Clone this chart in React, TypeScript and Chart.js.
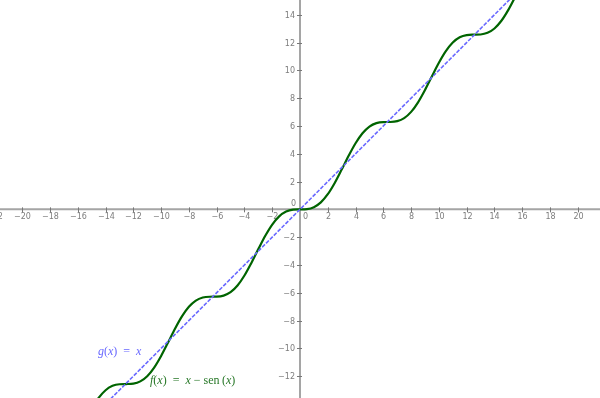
import React, { useEffect, useRef } from 'react';
import { Chart, registerables } from 'chart.js';
Chart.register(...registerables);

// f(x) = x - sen(x), sampled values (x, f(x))
const fXs = [
  -16, -15.5, -15, -14.5, -14, -13.5, -13, -12.5, -12, -11.5, -11, -10.5, -10, -9.5, -9, -8.5, -8,
  -7.5, -7, -6.5, -6, -5.5, -5, -4.5, -4, -3.5, -3, -2.5, -2, -1.5, -1, -0.5, 0,
  0.5, 1, 1.5, 2, 2.5, 3, 3.5, 4, 4.5, 5, 5.5, 6, 6.5, 7, 7.5, 8,
  8.5, 9, 9.5, 10, 10.5, 11, 11.5, 12, 12.5, 13, 13.5, 14, 14.5, 15, 15.5, 16,
];
const fYs = [
  -16.2879, -15.2935, -14.3497, -13.5651, -13.0094, -12.6962, -12.5798, -12.5663, -12.5366, -12.3755, -12.0, -11.3797, -10.544, -9.5752, -8.5879, -7.7015, -7.0106,
  -6.562, -6.343, -6.2849, -6.2794, -6.2055, -5.9589, -5.4775, -4.7568, -3.8508, -2.8589, -1.9015, -1.0907, -0.5025, -0.1585, -0.0206, 0,
  0.0206, 0.1585, 0.5025, 1.0907, 1.9015, 2.8589, 3.8508, 4.7568, 5.4775, 5.9589, 6.2055, 6.2794, 6.2849, 6.343, 6.562, 7.0106,
  7.7015, 8.5879, 9.5752, 10.544, 11.3797, 12.0, 12.3755, 12.5366, 12.5663, 12.5798, 12.6962, 13.0094, 13.5651, 14.3497, 15.2935, 16.2879,
];
// g(x) = x
const gXs = [-17, 17];
const gYs = [-17, 17];

const xTicks = [-22, -20, -18, -16, -14, -12, -10, -8, -6, -4, -2, 2, 4, 6, 8, 10, 12, 14, 16, 18, 20, 22];
const yTicks = [-12, -10, -8, -6, -4, -2, 2, 4, 6, 8, 10, 12, 14];

const X_MIN = -21.6, X_MAX = 21.6, Y_MIN = -13.57, Y_MAX = 15.06;

const gLabelPos = { x: -14.55, y: -10.25 };
const fLabelPos = { x: -10.8, y: -12.35 };

type Run = [string, boolean];
const gLabel: Run[] = [['g', true], ['(', false], ['x', true], [')', false], ['  =  ', false], ['x', true]];
const fLabel: Run[] = [
  ['f', true], ['(', false], ['x', true], [')', false], ['  =  ', false], ['x', true], [' − ', false],
  ['sen', false], ['\u2009(', false], ['x', true], [')', false],
];

const BLUE = 'rgb(105,105,255)';
const GREEN = 'rgb(0,100,0)';
const LABEL_GREEN = 'rgb(40,120,40)';
const AXIS = 'rgb(165,165,165)';
const TICK_TEXT = 'rgb(125,125,125)';

const fmt = (v: number) => (v < 0 ? '\u2212' + Math.abs(v) : String(v));

const axesPlugin = {
  id: 'geoAxes',
  beforeDatasetsDraw(chart: any) {
    const ctx = chart.ctx as CanvasRenderingContext2D;
    const xs = chart.scales.x, ys = chart.scales.y;
    const x0 = xs.getPixelForValue(0), y0 = ys.getPixelForValue(0);
    ctx.save();
    ctx.strokeStyle = AXIS;
    ctx.lineWidth = 2;
    ctx.beginPath();
    ctx.moveTo(0, y0); ctx.lineTo(chart.width, y0);
    ctx.moveTo(x0, 0); ctx.lineTo(x0, chart.height);
    ctx.stroke();
    ctx.lineWidth = 1;
    ctx.strokeStyle = 'rgb(120,120,120)';
    ctx.fillStyle = TICK_TEXT;
    ctx.font = '8px "DejaVu Sans", sans-serif';
    // x ticks
    ctx.textAlign = 'center';
    ctx.textBaseline = 'top';
    for (const t of xTicks) {
      const px = Math.round(xs.getPixelForValue(t)) + 0.5;
      ctx.beginPath();
      ctx.moveTo(px, y0 - 2); ctx.lineTo(px, y0 + 3);
      ctx.stroke();
      ctx.fillText(fmt(t), px, y0 + 4);
    }
    // y ticks
    ctx.textAlign = 'right';
    ctx.textBaseline = 'middle';
    for (const t of yTicks) {
      const py = Math.round(ys.getPixelForValue(t)) + 0.5;
      ctx.beginPath();
      ctx.moveTo(x0 - 3, py); ctx.lineTo(x0 + 2, py);
      ctx.stroke();
      ctx.fillText(fmt(t), x0 - 5, py);
    }
    // zeros
    ctx.textAlign = 'right';
    ctx.textBaseline = 'bottom';
    ctx.fillText('0', x0 - 4, y0 - 1);
    ctx.textAlign = 'left';
    ctx.textBaseline = 'top';
    ctx.fillText('0', x0 + 3, y0 + 4);
    ctx.restore();
  },
  afterDatasetsDraw(chart: any) {
    const ctx = chart.ctx as CanvasRenderingContext2D;
    const xs = chart.scales.x, ys = chart.scales.y;
    const drawRuns = (runs: Run[], pos: { x: number; y: number }, color: string) => {
      let px = xs.getPixelForValue(pos.x);
      const py = ys.getPixelForValue(pos.y);
      ctx.save();
      ctx.fillStyle = color;
      ctx.textAlign = 'left';
      ctx.textBaseline = 'middle';
      for (const [txt, it] of runs) {
        ctx.font = (it ? 'italic ' : '') + '12px "Liberation Serif", "DejaVu Serif", serif';
        ctx.fillText(txt, px, py);
        px += ctx.measureText(txt).width;
      }
      ctx.restore();
    };
    drawRuns(gLabel, gLabelPos, BLUE);
    drawRuns(fLabel, fLabelPos, LABEL_GREEN);
  },
};

export default function App() {
  const ref = useRef<HTMLCanvasElement | null>(null);
  useEffect(() => {
    if (!ref.current) return;
    const chart = new Chart(ref.current, {
      type: 'scatter',
      data: {
        datasets: [
          {
            label: 'f(x) = x − sen(x)',
            data: fXs.map((x, i) => ({ x, y: fYs[i] })),
            showLine: true,
            borderColor: GREEN,
            borderWidth: 2.2,
            pointRadius: 0,
            cubicInterpolationMode: 'monotone',
            order: 1,
          },
          {
            label: 'g(x) = x',
            data: gXs.map((x, i) => ({ x, y: gYs[i] })),
            showLine: true,
            borderColor: BLUE,
            borderWidth: 1.6,
            borderDash: [4, 1.5],
            pointRadius: 0,
            order: 0,
          },
        ],
      },
      options: {
        animation: false,
        responsive: false,
        maintainAspectRatio: false,
        layout: { padding: 0 },
        plugins: { legend: { display: false }, tooltip: { enabled: false } },
        scales: {
          x: { type: 'linear', min: X_MIN, max: X_MAX, display: false },
          y: { type: 'linear', min: Y_MIN, max: Y_MAX, display: false },
        },
      },
      plugins: [axesPlugin],
    });
    return () => chart.destroy();
  }, []);
  return (
    <div style={{ position: 'fixed', left: 0, top: 0, width: 600, height: 398, background: '#fff' }}>
      <canvas ref={ref} width={600} height={398} style={{ width: 600, height: 398, display: 'block' }} />
    </div>
  );
}
